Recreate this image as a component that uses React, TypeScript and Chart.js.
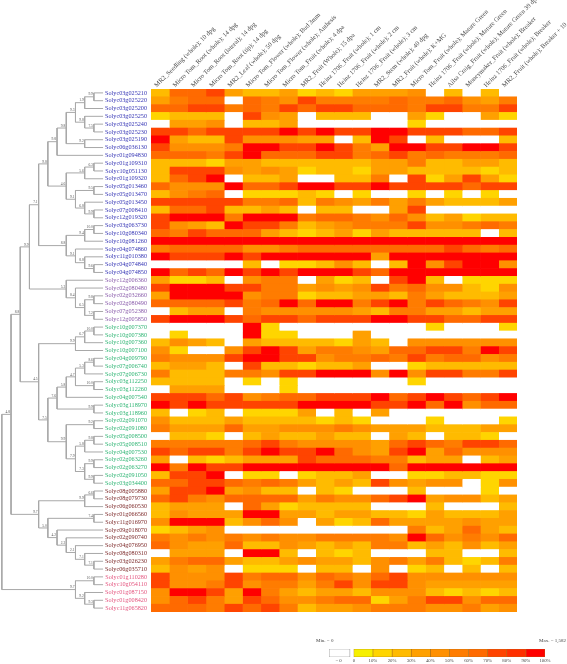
import React, { useEffect, useRef } from "react";
import { Chart, registerables } from "chart.js";

Chart.register(...registerables);

const conditions = [
  "MR2_Seedling (whole); 10 dpg", "Micro Tom_Root (whole); 14 dpg", "Micro Tom_Root (lateral); 14 dpg", "Micro Tom_Root (tip); 14 dpg",
  "MR2_Leaf (whole); 50 dpg", "Micro Tom_Flower (whole); Bud 3mm", "Micro Tom_Flower (whole); Anthesis", "Micro Tom_Fruit (whole); 4 dpa",
  "MR2_Fruit (Whole); 15 dpa", "Heinz 1706_Fruit (whole); 1 cm", "Heinz 1706_Fruit (whole); 2 cm", "Heinz 1706_Fruit (whole); 3 cm",
  "MR2_Stem (whole); 40 dpg", "MR2_Fruit (whole); K+MG", "Micro Tom_Fruit (whole); Mature Green", "Heinz 1706_Fruit (whole); Mature Green",
  "Ailsa Craig_Fruit (whole); Mature Green 39 dpa", "Moneymaker_Fruit (whole); Breaker", "Heinz 1706_Fruit (whole); Breaker", "MR2_Fruit (whole); Breaker + 10",
];

const genes = [
  "03g025210","03g025220","03g025200","03g025250","03g025240","03g025230","03g025190","06g036130","01g094830","01g109310",
  "10g051130","01g109320","05g013460","05g013470","05g013450","07g008410","12g019320","03g063730","10g080340","10g081260",
  "04g074860","11g010380","04g074840","04g074850","12g006360","02g080480","02g032660","02g080490","07g052380","12g005850",
  "10g007370","10g007380","10g007360","10g007100","04g009790","07g006740","07g006730","03g112250","03g112260","04g007540",
  "03g118970","03g118960","02g091070","02g091080","05g008500","05g008510","04g007530","02g063260","02g063270","02g091050",
  "03g034400","08g005880","08g079730","06g060530","01g066560","11g016970","09g018070","02g090740","04g076950","08g080310",
  "03g026230","06g035710","01g110280","10g054110","01g087150","01g008420","11g065820",
].map((g) => "Solyc" + g);

// how many leading genes in a row share a clade colour
const cladeSizes = [24, 6, 21, 11, 5];
const cladeColors = ["#3535b5", "#8a5cab", "#2fb574", "#7d2a2a", "#e4557f"];

// decile of maximum expression per gene (0 = no expression, 1 = 0-10% ... 10 = 90-100%)
const expressionLevels = [
  [3,7,7,8,4,3,3,4,2,3,2,4,4,4,5,0,3,0,3,0],
  [4,6,7,7,0,7,6,5,8,6,6,6,6,7,6,6,7,5,4,6],
  [7,7,8,8,6,7,6,8,7,8,8,7,7,7,6,8,8,6,6,8],
  [2,3,3,3,0,8,5,4,0,3,3,3,0,0,4,2,0,0,4,2],
  [0,4,4,5,0,3,3,4,0,0,0,0,0,0,2,0,0,0,0,0],
  [8,8,7,8,8,8,8,10,8,10,8,8,10,10,8,8,8,7,7,8],
  [10,4,3,3,8,5,5,5,4,4,0,3,10,8,0,3,0,0,0,3],
  [8,5,5,5,6,10,10,8,8,10,8,6,4,10,10,8,8,10,10,8],
  [7,7,7,6,8,10,7,7,7,8,8,6,7,8,6,7,6,6,6,7],
  [3,3,3,2,4,4,3,3,3,3,3,3,4,4,6,3,3,4,4,3],
  [3,8,8,8,5,4,5,4,2,3,3,2,4,4,3,3,3,3,2,3],
  [3,7,8,10,0,3,3,4,0,0,3,3,6,0,8,2,4,8,4,2],
  [7,5,5,5,10,7,7,8,10,10,8,8,10,8,8,8,8,7,8,8],
  [3,5,6,7,0,2,2,2,3,2,0,2,0,0,2,0,2,0,2,0],
  [8,8,8,8,8,6,6,7,3,6,5,4,6,4,6,4,3,3,3,4],
  [3,7,7,8,3,3,4,3,0,3,3,0,0,4,8,0,0,0,0,0],
  [8,10,10,10,6,10,10,10,6,7,7,6,5,7,5,3,4,2,3,3],
  [8,5,4,3,10,8,8,6,3,4,5,6,6,6,8,5,5,6,7,6],
  [7,6,8,7,7,7,4,3,2,3,4,2,4,3,3,3,3,3,0,3],
  [10,10,10,10,10,10,10,10,10,10,10,10,10,10,10,10,10,10,10,10],
  [6,7,7,7,7,5,5,6,7,7,7,7,7,7,7,7,8,7,6,7],
  [10,8,8,8,10,8,10,10,10,10,10,10,4,10,10,10,10,10,10,10],
  [0,0,0,0,0,3,0,2,2,3,5,3,0,3,10,5,8,10,10,5],
  [10,7,8,7,10,8,10,8,10,10,10,8,7,10,10,10,10,10,10,10],
  [4,2,2,3,0,5,6,6,0,4,2,3,0,8,10,3,0,2,2,2],
  [8,10,10,10,8,8,6,6,4,5,4,5,8,6,7,5,5,3,2,5],
  [4,10,10,10,10,5,6,6,2,3,3,4,4,3,6,4,3,3,3,4],
  [7,7,7,7,8,6,7,10,7,10,10,6,8,10,6,8,7,6,5,8],
  [0,3,4,4,0,6,5,5,5,5,5,4,3,6,6,4,4,3,4,4],
  [8,10,10,10,8,7,8,8,7,8,8,8,10,10,8,8,7,7,8,8],
  [0,0,0,0,0,10,2,0,0,0,0,0,0,0,0,2,0,0,0,2],
  [0,2,0,0,0,10,2,2,0,0,0,4,0,0,0,0,0,0,0,0],
  [3,5,4,3,0,4,3,3,3,3,2,4,3,0,5,5,5,5,5,5],
  [5,2,0,0,5,8,10,8,4,6,6,5,4,7,7,8,8,6,10,8],
  [6,5,5,5,8,10,10,8,8,5,6,6,7,6,8,6,7,7,5,6],
  [3,4,4,3,0,8,3,3,2,3,3,4,0,0,2,3,3,3,3,3],
  [6,3,3,3,6,6,5,8,8,10,10,10,5,10,5,8,8,6,6,8],
  [3,3,3,3,0,2,0,2,0,0,0,0,0,0,2,0,0,0,0,0],
  [0,4,4,4,0,0,0,2,0,0,0,0,0,0,0,0,0,0,0,0],
  [8,8,8,7,8,5,6,7,7,8,8,8,10,7,8,10,8,7,8,10],
  [10,8,10,8,8,8,8,8,10,10,10,10,8,8,10,7,10,5,7,7],
  [3,0,2,3,0,2,2,2,4,0,3,0,4,0,0,0,0,0,0,0],
  [5,3,3,3,4,3,3,3,3,2,3,2,0,0,0,2,0,0,0,2],
  [6,4,4,4,7,4,4,5,5,5,6,5,4,4,4,3,3,3,4,4],
  [0,3,3,2,0,3,4,3,3,4,3,3,0,4,3,0,3,3,2,0],
  [6,6,6,6,6,7,8,6,5,5,5,5,4,7,8,7,6,8,8,7],
  [8,7,8,8,6,8,10,8,8,10,7,5,4,8,10,4,7,5,5,5],
  [4,0,3,2,3,4,4,4,8,7,7,7,6,6,3,4,4,0,3,4],
  [10,6,10,8,8,10,10,10,10,10,10,10,10,7,10,10,10,10,10,10],
  [3,8,8,10,0,2,2,0,2,3,3,4,0,0,2,2,3,3,2,2],
  [7,7,8,8,7,6,7,6,4,3,4,3,8,5,4,5,5,0,2,5],
  [4,8,8,10,4,5,3,3,0,3,2,0,0,0,3,0,0,0,2,0],
  [7,8,6,5,7,7,7,7,4,6,5,5,7,8,10,4,5,5,3,4],
  [3,4,4,4,0,7,4,2,3,3,3,3,0,0,0,3,0,0,0,3],
  [3,5,4,4,4,10,10,4,4,3,4,4,3,3,2,4,3,3,3,4],
  [5,10,10,10,3,5,7,5,0,4,2,3,7,4,4,4,4,5,4,4],
  [2,3,4,5,0,0,0,0,0,0,0,0,0,0,6,3,4,7,4,3],
  [6,5,6,5,6,5,6,5,5,6,6,6,6,5,10,7,5,6,5,7],
  [7,5,4,4,7,3,3,5,4,3,4,3,6,6,3,4,3,5,3,4],
  [0,4,4,4,0,10,10,3,0,3,2,3,0,0,0,3,3,0,0,3],
  [4,6,7,7,4,3,3,4,5,4,4,3,5,6,4,6,3,2,3,6],
  [3,5,4,5,0,2,2,2,0,3,3,0,5,0,2,3,0,3,0,3],
  [8,5,5,5,8,6,7,7,5,7,6,5,7,8,5,5,5,5,5,5],
  [8,5,5,6,8,5,6,6,4,6,8,5,8,8,5,4,4,4,4,4],
  [5,10,10,8,4,10,6,4,3,4,4,3,5,5,5,3,2,3,2,3],
  [5,7,8,6,4,8,7,5,5,6,7,7,2,4,6,8,8,5,7,7],
  [7,7,7,6,8,7,8,6,3,4,4,5,6,6,6,5,5,6,4,5],
];

const levelColors = ["#ffffff","#f6f000","#ffd500","#ffbb00","#ffa000","#ff9000","#ff7c00","#ff6a00","#ff4400","#ff3000","#ff0000"];

const legendBands = [0,10,20,30,40,50,60,70,80,90,100];

// dendrogram: leaf = gene row (1-based), node = [depth, support, childA, childB]
type Tree = any;
const cladeA: Tree = [7, "9.8", [8, "9.3", [9, "1.9", [10, "9.9", 1, 2], 3], [9, "9.8", 4, [10, "7.5", 5, 6]]], [9, "9.2", 7, 8]];
const cladeC: Tree = [7, "4.6", [9, "5.6", [10, "6.3", 10, 11], 12], [8, "9.1", [10, "9.5", 13, 14], [9, "6.8", 15, [10, "9.9", 16, 17]]]];
const cladeD: Tree = [7, "8.8", [9, "9.4", [10, "10.0", 18, 19], 20], [8, "9.1", 21, [9, "8.8", 22, [10, "9.6", 23, 24]]]];
const cladeE: Tree = [7, "5.3", 25, [8, "8.4", 26, [9, "6.5", [10, "9.8", 27, 28], [10, "7.2", 29, 30]]]];
const cladeF: Tree = [4, "4.5", [8, "9.9", [9, "6.7", [10, "10.0", 31, 32], 33], 34], [5, "7.5", [6, "7.6", [7, "5.8", [8, "4.7", [9, "5.3", [10, "8.6", 35, 36], 37], [10, "10.0", 38, 39]], 40], [10, "9.9", 41, 42]], [7, "9.9", [10, "9.2", 43, 44], [8, "7.9", [9, "5.8", [10, "9.8", 45, 46], 47], [9, "7.3", [10, "9.9", 48, 49], [10, "9.9", 50, 51]]]]]];
const cladeG: Tree = [4, "9.7", [9, "9.9", [10, "6.6", 52, 53], 54], [5, "5.0", [10, "7.4", 55, 56], [6, "4.2", 57, [7, "2.2", 58, [8, "2.1", 59, [9, "7.1", 60, [10, "7.1", 61, 62]]]]]]];
const cladeH: Tree = [8, "9.7", [10, "10.0", 63, 64], [9, "9.2", 65, [10, "9.3", 66, 67]]];
const rootTree: Tree = [0, "", [1, "4.8",
  [2, "8.8", [3, "9.9", [4, "7.1", [5, "9.8", [6, "9.8", cladeA, 9], cladeC], cladeD], cladeE], cladeF],
  cladeG], cladeH];

const LEAF_DEPTH = 11;
const geneColor = (i: number) => {
  let end = 0;
  for (let c = 0; c < cladeSizes.length; c++) {
    end += cladeSizes[c];
    if (i < end) return cladeColors[c];
  }
  return "#000";
};

type Pt = { x: number; y: number };
type Note = { x: number; y: number; t: string };
function walkTree(t: Tree, pts: Pt[], notes: Note[]): number {
  if (typeof t === "number") return t - 0.5;
  const [d, label, a, b] = t;
  const ya = walkTree(a, pts, notes);
  const yb = walkTree(b, pts, notes);
  const da = typeof a === "number" ? LEAF_DEPTH : a[0];
  const db = typeof b === "number" ? LEAF_DEPTH : b[0];
  pts.push({ x: da, y: ya }, { x: d, y: ya }, { x: d, y: yb }, { x: db, y: yb }, { x: NaN, y: NaN });
  const y = (ya + yb) / 2;
  if (label) notes.push({ x: d, y, t: label });
  return y;
}

const serif = "'Liberation Serif', serif";

export default function App() {
  const heatRef = useRef<HTMLCanvasElement>(null);
  const treeRef = useRef<HTMLCanvasElement>(null);
  const legRef = useRef<HTMLCanvasElement>(null);

  useEffect(() => {
    document.body.style.margin = "0";

    const heat = new Chart(heatRef.current!, {
      type: "bar",
      data: {
        labels: genes,
        datasets: conditions.map((c, col) => ({
          label: c,
          data: expressionLevels.map(() => [col, col + 1]),
          backgroundColor: expressionLevels.map((r) => levelColors[r[col]]),
          borderWidth: 0,
          barPercentage: 1,
          categoryPercentage: 1,
          grouped: false,
        })) as any,
      },
      options: {
        indexAxis: "y",
        responsive: false,
        animation: false,
        layout: { padding: { left: 0, top: 0, right: 50, bottom: 52 } },
        plugins: { legend: { display: false }, tooltip: { enabled: false } },
        scales: {
          x: {
            type: "linear",
            position: "top",
            min: 0,
            max: conditions.length,
            grid: { display: false, drawTicks: false },
            border: { display: false },
            afterBuildTicks: (s: any) => { s.ticks = conditions.map((_, i) => ({ value: i + 0.5 })); },
            afterFit: (s: any) => { s.height = 89; s.paddingLeft = 0; s.paddingRight = 0; s.paddingTop = 0; s.paddingBottom = 0; },
            ticks: {
              autoSkip: false,
              minRotation: 45,
              maxRotation: 45,
              padding: 0,
              labelOffset: 1,
              color: "#4a4a4a",
              font: { family: serif, size: 6.5 },
              callback: (_v: any, i: number) => conditions[i],
            },
          },
          y: {
            type: "category",
            position: "left",
            grid: { display: false, drawTicks: false },
            border: { display: false },
            afterFit: (s: any) => { s.width = 151; s.paddingTop = 0; s.paddingBottom = 0; s.paddingLeft = 0; s.paddingRight = 0; },
            ticks: {
              autoSkip: false,
              padding: 4,
              font: { family: serif, size: 6.2 },
              color: (ctx: any) => geneColor(ctx.index),
            },
          },
        },
      } as any,
    });

    const pts: Pt[] = [];
    const notes: Note[] = [];
    walkTree(rootTree, pts, notes);
    const notesPlugin = {
      id: "treeNotes",
      afterDatasetsDraw(c: any) {
        const g = c.ctx;
        g.save();
        g.font = `3.6px ${serif}`;
        g.fillStyle = "#555";
        g.textAlign = "right";
        g.textBaseline = "bottom";
        for (const n of notes) g.fillText(n.t, c.scales.x.getPixelForValue(n.x) - 1, c.scales.y.getPixelForValue(n.y) - 0.5);
        g.restore();
      },
    };
    const tree = new Chart(treeRef.current!, {
      type: "scatter",
      data: {
        datasets: [{
          data: pts as any,
          showLine: true,
          spanGaps: false,
          borderColor: "#a8a8a8",
          borderWidth: 1,
          pointRadius: 0,
        }],
      },
      options: {
        responsive: false,
        animation: false,
        layout: { padding: { left: 0, right: 0, top: 89, bottom: 52 } },
        plugins: { legend: { display: false }, tooltip: { enabled: false } },
        scales: {
          x: { type: "linear", display: false, min: -0.2, max: 11.1 },
          y: { type: "linear", display: false, min: 0, max: genes.length, reverse: true },
        },
      } as any,
      plugins: [notesPlugin],
    });

    const leg = new Chart(legRef.current!, {
      type: "bar",
      data: {
        labels: ["scale"],
        datasets: [
          { data: [[-13, -2]], backgroundColor: "#ffffff", borderColor: "#888", borderWidth: 0.7, borderSkipped: false, barPercentage: 1, categoryPercentage: 1, grouped: false } as any,
          ...legendBands.slice(1).map((hi, i) => ({
            data: [[legendBands[i], hi]],
            backgroundColor: levelColors[i + 1],
            borderColor: "#a8701a",
            borderWidth: 0.6,
            borderSkipped: false,
            barPercentage: 1,
            categoryPercentage: 1,
            grouped: false,
          })),
        ],
      },
      options: {
        indexAxis: "y",
        responsive: false,
        animation: false,
        layout: { padding: { left: 29, right: 22, top: 9, bottom: 0 } },
        plugins: { legend: { display: false }, tooltip: { enabled: false } },
        scales: {
          y: { display: false },
          x: {
            type: "linear",
            min: -13,
            max: 100,
            position: "bottom",
            grid: { display: false, drawTicks: false },
            border: { display: false },
            afterBuildTicks: (s: any) => { s.ticks = [-8, ...legendBands].map((value) => ({ value })); },
            afterFit: (s: any) => { s.height = 7; s.paddingLeft = 0; s.paddingRight = 0; },
            ticks: {
              autoSkip: false,
              maxRotation: 0,
              padding: 1,
              color: "#444",
              font: { family: serif, size: 4.8 },
              callback: (v: number) => (v < 0 ? "= 0" : v === 0 ? "0" : v + "%"),
            },
          },
        },
      } as any,
    });

    return () => { heat.destroy(); tree.destroy(); leg.destroy(); };
  }, []);

  const small: React.CSSProperties = { position: "absolute", top: 638, font: `5px ${serif}`, color: "#444", whiteSpace: "nowrap" };
  return (
    <div style={{ position: "relative", width: 567, height: 664, overflow: "hidden", background: "#fff" }}>
      <canvas ref={heatRef} width={567} height={664} style={{ position: "absolute", left: 0, top: 0 }} />
      <canvas ref={treeRef} width={104} height={664} style={{ position: "absolute", left: 0, top: 0 }} />
      <canvas ref={legRef} width={267} height={24} style={{ position: "absolute", left: 300, top: 640 }} />
      <span style={{ ...small, left: 316 }}>Min. = 0</span>
      <span style={{ ...small, left: 539 }}>Max. = 1,582</span>
    </div>
  );
}
